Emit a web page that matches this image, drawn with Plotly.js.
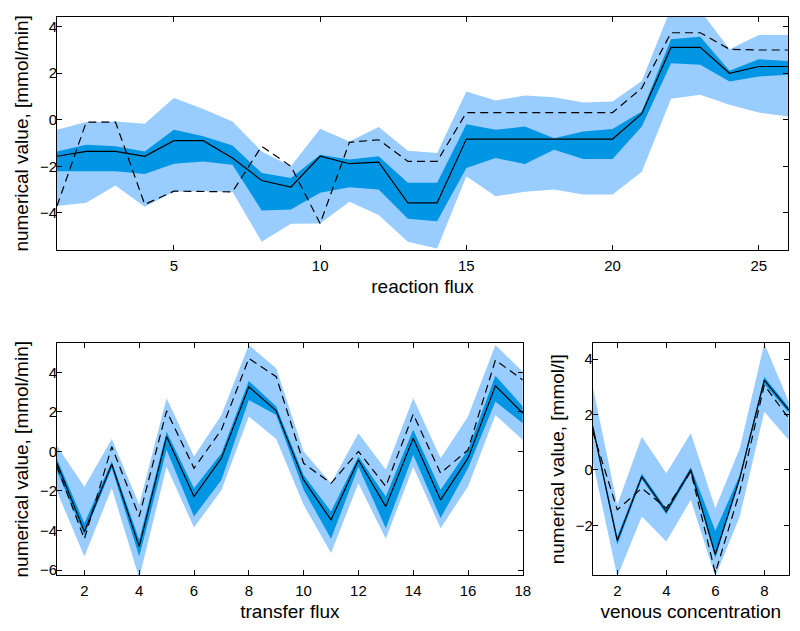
<!DOCTYPE html>
<html>
<head>
<meta charset="utf-8">
<script src="https://cdn.plot.ly/plotly-3.0.1.min.js"></script>
<style>html,body{margin:0;padding:0;background:#fff;}#chart{width:800px;height:631px;}</style>
</head>
<body>
<div id="chart"></div>
<script>
// ---- reaction flux (top panel) ----
const rxnX = [1,2,3,4,5,6,7,8,9,10,11,12,13,14,15,16,17,18,19,20,21,22,23,24,25,26];
const rxnMedian = [-1.57,-1.36,-1.36,-1.57,-0.9,-0.9,-1.64,-2.61,-2.89,-1.57,-1.89,-1.82,-3.57,-3.57,-0.83,-0.83,-0.83,-0.83,-0.83,-0.83,0.26,3.11,3.11,2.0,2.29,2.29];
const rxnTrue = [-3.71,-0.1,-0.1,-3.64,-3.07,-3.07,-3.1,-1.14,-2.0,-4.46,-0.97,-0.86,-1.79,-1.79,0.31,0.31,0.31,0.31,0.31,0.31,1.36,3.74,3.74,3.03,3.0,3.0];
const rxnInnerHi = [-1.36,-1.07,-1.14,-1.36,-0.43,-0.71,-1.11,-2.29,-2.5,-1.5,-1.71,-1.57,-2.71,-2.71,-0.19,-0.43,-0.29,-0.79,-0.5,-0.4,0.36,3.46,3.57,2.11,2.6,2.53];
const rxnInnerLo = [-2.21,-2.21,-2.21,-2.33,-1.89,-1.79,-1.93,-3.9,-3.86,-3.14,-2.9,-3.0,-4.26,-4.36,-2.07,-1.64,-1.9,-1.29,-1.69,-1.69,-0.29,2.43,2.36,1.64,1.86,1.93];
const rxnOuterHi = [-0.43,-0.1,-0.07,-0.17,0.93,0.46,-0.07,-1.36,-2.0,-0.39,-0.93,-0.31,-1.33,-1.43,1.21,0.83,1.04,0.97,0.74,0.79,1.67,4.8,4.7,3.03,3.64,3.64];
const rxnOuterLo = [-3.71,-3.57,-2.83,-3.74,-3.1,-3.07,-3.1,-5.24,-4.47,-4.46,-3.53,-4.1,-5.24,-5.54,-2.43,-3.29,-3.1,-3.0,-3.21,-3.21,-2.24,0.9,1.07,0.64,0.31,0.14];

// ---- transfer flux (bottom left) ----
const trfX = [1,2,3,4,5,6,7,8,9,10,11,12,13,14,15,16,17,18];
const trfMedian = [-0.6,-4.05,-0.65,-4.81,0.75,-2.28,-0.34,3.27,2.05,-1.44,-3.46,-0.43,-2.79,0.67,-2.45,-0.34,3.32,1.93];
const trfTrue = [-0.77,-4.42,0.24,-3.29,2.05,-0.85,1.09,4.7,3.78,-0.6,-1.61,0.0,-1.77,1.88,-1.1,0.08,4.62,3.61];
const trfInnerHi = [-0.4,-3.63,-0.5,-4.47,1.0,-1.86,-0.09,3.56,2.27,-1.19,-3.04,-0.26,-2.28,1.09,-1.94,0.08,3.83,2.27];
const trfInnerLo = [-1.0,-4.22,-0.85,-5.31,0.08,-3.29,-1.44,2.6,1.84,-1.94,-4.42,-0.77,-3.88,-0.17,-3.37,-0.85,2.52,1.42];
const trfOuterHi = [0.28,-1.78,0.63,-2.7,2.69,-0.26,1.84,5.38,4.2,0.0,-1.61,0.92,-0.93,2.69,-0.34,1.76,5.38,4.03];
const trfOuterLo = [-2.03,-5.31,-1.86,-6.4,-0.77,-3.85,-1.96,1.76,0.63,-2.7,-5.14,-1.61,-4.42,-0.77,-3.88,-1.77,1.84,0.58];

// ---- venous concentration (bottom right) ----
const venX = [1,2,3,4,5,6,7,8,9];
const venMedian = [1.56,-2.55,-0.24,-1.5,0.0,-3.06,-0.29,3.24,2.16];
const venTrue = [1.38,-1.44,-0.66,-1.38,-0.06,-3.72,-0.78,3.06,1.86];
const venInnerHi = [1.66,-2.4,-0.14,-1.4,0.1,-2.2,-0.19,3.35,2.26];
const venInnerLo = [1.46,-2.7,-0.34,-1.6,-0.1,-3.18,-0.39,3.1,2.06];
const venOuterHi = [3.0,-1.26,1.2,-0.12,1.32,-1.38,0.78,4.56,2.46];
const venOuterLo = [0.3,-3.85,-1.68,-2.58,-1.08,-3.85,-1.68,2.1,1.08];

const LIGHT = 'rgb(153,204,255)';
const DARK = 'rgb(0,150,228)';
const FONT = 'Liberation Sans, Arial, sans-serif';

function panel(x, med, tru, ih, il, oh, ol, xa, ya) {
  return [
    {x: x, y: ol, xaxis: xa, yaxis: ya, mode: 'lines', line: {width: 0, color: LIGHT}, hoverinfo: 'skip', showlegend: false},
    {x: x, y: oh, xaxis: xa, yaxis: ya, mode: 'lines', line: {width: 0, color: LIGHT}, fill: 'tonexty', fillcolor: LIGHT, hoverinfo: 'skip', showlegend: false},
    {x: x, y: il, xaxis: xa, yaxis: ya, mode: 'lines', line: {width: 0, color: DARK}, hoverinfo: 'skip', showlegend: false},
    {x: x, y: ih, xaxis: xa, yaxis: ya, mode: 'lines', line: {width: 0, color: DARK}, fill: 'tonexty', fillcolor: DARK, hoverinfo: 'skip', showlegend: false},
    {x: x, y: tru, xaxis: xa, yaxis: ya, mode: 'lines', line: {width: 1.2, color: 'black', dash: '8px,5px'}, showlegend: false},
    {x: x, y: med, xaxis: xa, yaxis: ya, mode: 'lines', line: {width: 1.2, color: 'black'}, showlegend: false}
  ];
}

const data = [].concat(
  panel(rxnX, rxnMedian, rxnTrue, rxnInnerHi, rxnInnerLo, rxnOuterHi, rxnOuterLo, 'x', 'y'),
  panel(trfX, trfMedian, trfTrue, trfInnerHi, trfInnerLo, trfOuterHi, trfOuterLo, 'x2', 'y2'),
  panel(venX, venMedian, venTrue, venInnerHi, venInnerLo, venOuterHi, venOuterLo, 'x3', 'y3')
);

function ax(extra) {
  return Object.assign({
    showline: true, linecolor: 'black', linewidth: 1, mirror: 'ticks',
    ticks: 'inside', ticklen: 5, tickcolor: 'black', tickwidth: 1,
    showgrid: false, zeroline: false, automargin: false,
    tickfont: {family: FONT, size: 15, color: 'black'}
  }, extra);
}
function ttl(t, standoff) {
  return {text: t, font: {family: FONT, size: 19, color: 'black'}, standoff: standoff};
}

const YSTAND = -4;
const layout = {
  width: 800, height: 631,
  margin: {l: 0, r: 0, t: 0, b: 0},
  paper_bgcolor: 'white', plot_bgcolor: 'white',
  xaxis: ax({domain: [0.07125, 0.985], range: [1, 26], tickvals: [5,10,15,20,25], anchor: 'y', ticklabelstandoff: 2, title: ttl('reaction flux', 6)}),
  yaxis: ax({domain: [0.6038, 0.9735], range: [-5.6, 4.43], tickvals: [-4,-2,0,2,4], anchor: 'x', ticklabelstandoff: YSTAND, title: ttl('numerical value, [mmol/min]', 6)}),
  xaxis2: ax({domain: [0.07125, 0.6535], range: [1, 18], tickvals: [2,4,6,8,10,12,14,16,18], anchor: 'y2', ticklabelstandoff: 2, title: ttl('transfer flux', 6)}),
  yaxis2: ax({domain: [0.088, 0.4564], range: [-6.27, 5.48], tickvals: [-6,-4,-2,0,2,4], anchor: 'x2', ticklabelstandoff: YSTAND, title: ttl('numerical value, [mmol/min]', 6)}),
  xaxis3: ax({domain: [0.741, 0.986], range: [1, 9], tickvals: [2,4,6,8], anchor: 'y3', ticklabelstandoff: 2, title: ttl('venous concentration', 6)}),
  yaxis3: ax({domain: [0.088, 0.4564], range: [-3.81, 4.58], tickvals: [-2,0,2,4], anchor: 'x3', ticklabelstandoff: YSTAND, title: ttl('numerical value, [mmol/l]', 6)})
};

Plotly.newPlot('chart', data, layout, {displayModeBar: false, staticPlot: true});
</script>
</body>
</html>
